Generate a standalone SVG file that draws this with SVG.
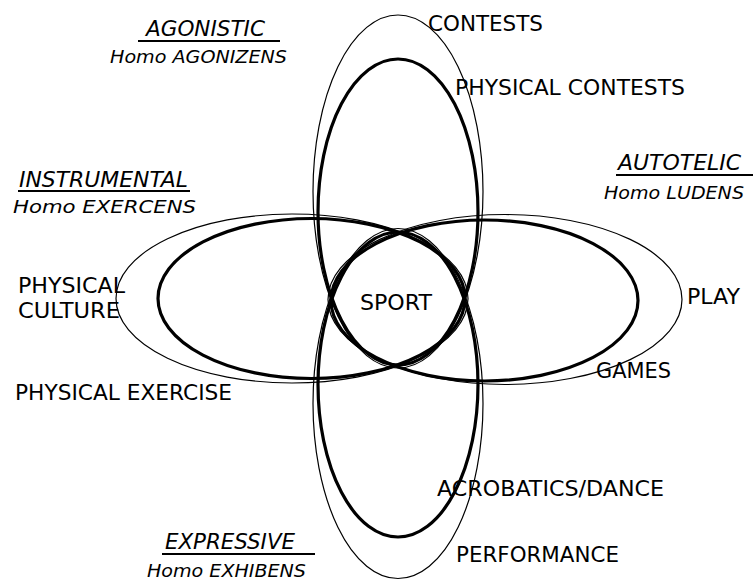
<svg xmlns="http://www.w3.org/2000/svg" width="753" height="580" viewBox="0 0 753 580">
<style>
.thick{fill:none;stroke:#000;stroke-width:3.2}
.thin{fill:none;stroke:#000;stroke-width:1.2}
.lbl{font-family:"DejaVu Sans","Liberation Sans",sans-serif;font-size:21px;fill:#000}
.cat{font-family:"DejaVu Sans","Liberation Sans",sans-serif;font-size:21px;font-style:italic;fill:#000}
.homo{font-family:"DejaVu Sans","Liberation Sans",sans-serif;font-size:18.5px;font-style:italic;fill:#000}
.ul{stroke:#000;stroke-width:2}
</style>
<rect width="753" height="580" fill="#fff"/>
<g id="connectors">
</g>
<g id="contests">
<ellipse class="thin" cx="398" cy="191.5" rx="85" ry="176.5"/>
<text class="lbl" x="428" y="31" textLength="115" lengthAdjust="spacingAndGlyphs">CONTESTS</text>
</g>
<g id="physical-contests">
<ellipse class="thick" cx="398" cy="212" rx="80" ry="153"/>
<text class="lbl" x="455" y="95" textLength="230" lengthAdjust="spacingAndGlyphs">PHYSICAL CONTESTS</text>
</g>
<g id="performance">
<ellipse class="thin" cx="398" cy="403.5" rx="85" ry="175"/>
<text class="lbl" x="456" y="562" textLength="163" lengthAdjust="spacingAndGlyphs">PERFORMANCE</text>
</g>
<g id="acrobatics-dance">
<ellipse class="thick" cx="398" cy="384.5" rx="80" ry="152.5"/>
<text class="lbl" x="437" y="496" textLength="227" lengthAdjust="spacingAndGlyphs">ACROBATICS/DANCE</text>
</g>
<g id="physical-exercise">
<ellipse class="thin" cx="292" cy="298.5" rx="176" ry="84.5"/>
<text class="lbl" x="15" y="400" textLength="217" lengthAdjust="spacingAndGlyphs">PHYSICAL EXERCISE</text>
</g>
<g id="physical-culture">
<ellipse class="thick" cx="311.5" cy="298.5" rx="153.5" ry="80"/>
<text class="lbl" x="18" y="293" textLength="107" lengthAdjust="spacingAndGlyphs">PHYSICAL</text>
<text class="lbl" x="18" y="318" textLength="102" lengthAdjust="spacingAndGlyphs">CULTURE</text>
</g>
<g id="play">
<ellipse class="thin" cx="505" cy="299.5" rx="177" ry="85"/>
<text class="lbl" x="687" y="304" textLength="53" lengthAdjust="spacingAndGlyphs">PLAY</text>
</g>
<g id="games">
<ellipse class="thick" cx="484.5" cy="300.5" rx="153.5" ry="80.5"/>
<text class="lbl" x="596" y="378" textLength="75" lengthAdjust="spacingAndGlyphs">GAMES</text>
</g>
<g id="sport">
<text class="lbl" x="360" y="310" textLength="72" lengthAdjust="spacingAndGlyphs">SPORT</text>
</g>
<g id="agonistic">
<text class="cat" x="146" y="36" textLength="119" lengthAdjust="spacingAndGlyphs">AGONISTIC</text>
<line class="ul" x1="138" y1="41" x2="280" y2="41"/>
<text class="homo" x="110" y="63" textLength="177" lengthAdjust="spacingAndGlyphs">Homo AGONIZENS</text>
</g>
<g id="instrumental">
<text class="cat" x="19" y="187" textLength="169" lengthAdjust="spacingAndGlyphs">INSTRUMENTAL</text>
<line class="ul" x1="18" y1="191" x2="190" y2="191"/>
<text class="homo" x="13" y="213" textLength="183" lengthAdjust="spacingAndGlyphs">Homo EXERCENS</text>
</g>
<g id="autotelic">
<text class="cat" x="618" y="170" textLength="123" lengthAdjust="spacingAndGlyphs">AUTOTELIC</text>
<line class="ul" x1="616" y1="175" x2="753" y2="175"/>
<text class="homo" x="604" y="199" textLength="140" lengthAdjust="spacingAndGlyphs">Homo LUDENS</text>
</g>
<g id="expressive">
<text class="cat" x="165" y="549" textLength="130" lengthAdjust="spacingAndGlyphs">EXPRESSIVE</text>
<line class="ul" x1="162" y1="554" x2="315" y2="554"/>
<text class="homo" x="147" y="577" textLength="159" lengthAdjust="spacingAndGlyphs">Homo EXHIBENS</text>
</g>
</svg>
